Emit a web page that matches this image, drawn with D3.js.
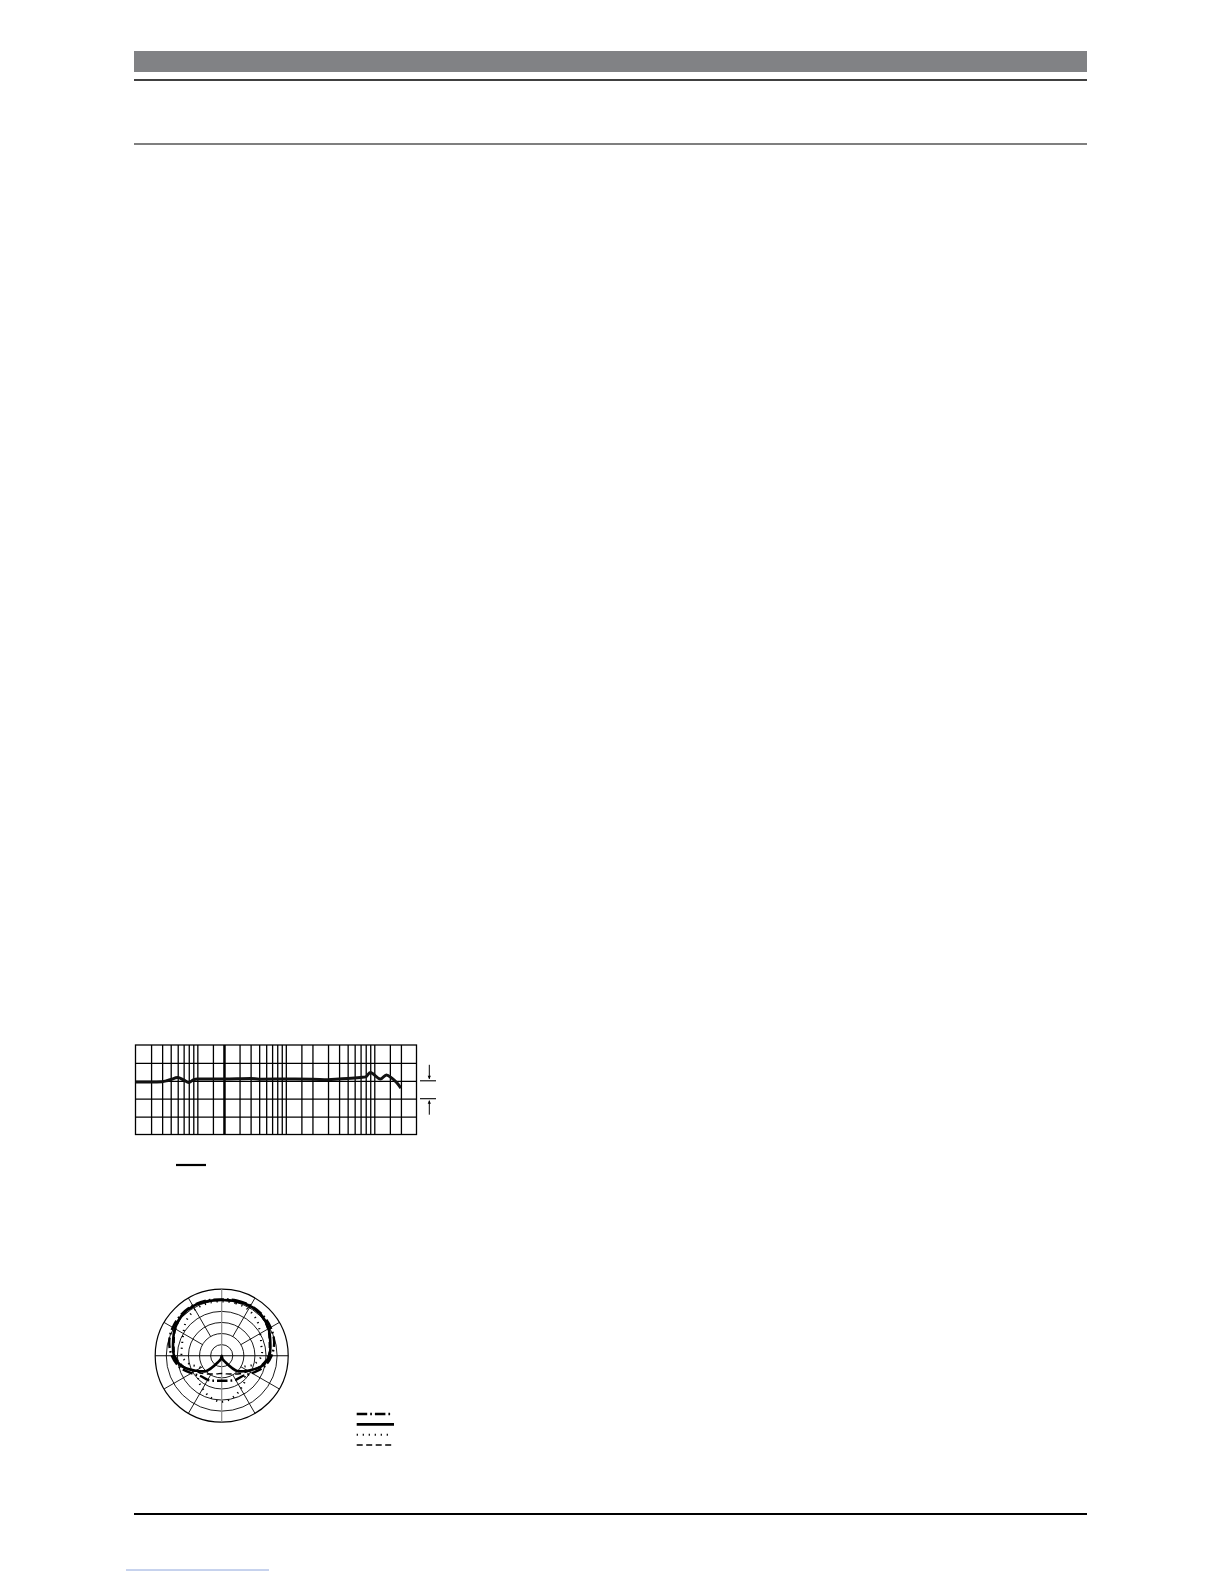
<!DOCTYPE html>
<html>
<head>
<meta charset="utf-8">
<script src="https://cdn.jsdelivr.net/npm/d3@7/dist/d3.min.js"></script>
<style>
body{margin:0;background:#fff;}
svg{display:block;}
</style>
</head>
<body>
<script>
// frequency response (Hz, dB re. 1 kHz line)
const respFreq = [20,30,40,45,50,60,70,80,90,100,200,400,500,1000,2000,3000,4000,5000,6000,7000,8000,9000,11700,13700,15800,18000,20000];
const respDb   = [-0.7,-0.7,-0.5,0,0.7,1.8,0.5,-0.9,0.5,1.0,1.0,1.3,0.9,1.0,0.9,0.6,1.0,1.3,1.6,1.9,2.2,4.6,1.0,3.3,1.5,-1.1,-4.1];

// grid of the response chart
const gridFreq = [30,40,50,60,70,80,90,100,150,200,300,400,500,600,700,800,900,1000,1500,2000,3000,4000,5000,6000,7000,8000,9000,10000,15000,20000];
const gridDb = [10,0,-10,-20];

// polar pattern (degrees, dB), one half, mirrored when drawn
const polarAngle = [0,15,30,45,60,75,90,105,120,135,150,165,180];
const solidDb    = [-4.9,-4.6,-4.2,-4.4,-5.6,-7.3,-8.5,-11.5,-16.5,-20.3,-26.6,-28.4,-30];
const dashDotDb  = [-4.6,-4.2,-3.9,-4.0,-4.5,-5.5,-7.5,-10.3,-14.2,-16.9,-17.4,-18.3,-18.7];
const dottedDb   = [-5.5,-5.5,-6.0,-7.5,-10,-11.5,-12,-15,-19,-15,-12.8,-10.5,-9.2];
const dashedDb   = [-5.0,-4.8,-4.5,-4.8,-6.0,-7.8,-9.0,-12,-16,-18.5,-20.5,-21.5,-22];
const ringDb = [-25,-20,-15,-10,-5,0];
const spokeAngle = [30,60,120,150,210,240,300,330];
const legendKeys = ['dashdot','solid','dotted','dashed'];

const W = 1224, H = 1584;
const svg = d3.select('body').append('svg')
        .attr('width', W)
        .attr('height', H);

// page header / footer rules
svg.append('rect')
   .attr('x', 134).attr('y', 51)
   .attr('width', 953).attr('height', 21)
   .attr('fill', '#818285');

[[80,1.3],[144,1.2],[1514,2.2]].forEach(function(l){
        svg.append('line')
           .attr('x1', 134).attr('x2', 1087)
           .attr('y1', l[0]).attr('y2', l[0])
           .attr('stroke', '#000')
           .attr('stroke-width', l[1]);
});

svg.append('line')
   .attr('x1', 126).attr('x2', 269)
   .attr('y1', 1570).attr('y2', 1570)
   .attr('stroke', '#8ea6dc')
   .attr('stroke-width', 1);

// ---------- frequency response ----------
const x = d3.scaleLog()
        .domain([20,30000])
        .range([135.5,416.5]);

const y = d3.scaleLinear()
        .domain([20,-30])
        .range([1045,1134.5]);

const fr = svg.append('g');

fr.append('g')
  .attr('transform', "translate(0," + y(-30) + ")")
  .call(d3.axisBottom(x)
          .tickValues(gridFreq)
          .tickSize(-(y(-30) - y(20)))
          .tickFormat(''))
  .call(g => g.select('.domain').remove())
  .selectAll('line')
  .attr('stroke', '#000')
  .attr('stroke-width', d => d == 200 ? 2.5 : 1.3);

fr.append('g')
  .attr('transform', "translate(" + x(20) + ",0)")
  .call(d3.axisLeft(y)
          .tickValues(gridDb)
          .tickSize(-(x(30000) - x(20)))
          .tickFormat(''))
  .call(g => g.select('.domain').remove())
  .selectAll('line')
  .attr('stroke', '#000')
  .attr('stroke-width', 1.3);

fr.append('rect')
  .attr('x', x(20)).attr('y', y(20))
  .attr('width', x(30000) - x(20))
  .attr('height', y(-30) - y(20))
  .attr('fill', 'none')
  .attr('stroke', '#000')
  .attr('stroke-width', 1.3);

const resp = respFreq.map((f,i) => ({f: f, db: respDb[i]}));

fr.append('path')
  .datum(resp)
  .attr('d', d3.line().x(d => x(d.f)).y(d => y(d.db)).curve(d3.curveMonotoneX))
  .attr('fill', 'none')
  .attr('stroke', '#111')
  .attr('stroke-width', 3)
  .attr('stroke-linejoin', 'round');

// 10 dB marker at the right
const ax = x(30000) + 12.8;
[0,-10].forEach(function(v){
        fr.append('line')
          .attr('x1', x(30000) + 3.5).attr('x2', x(30000) + 19.5)
          .attr('y1', y(v)).attr('y2', y(v))
          .attr('stroke', '#000').attr('stroke-width', 1.1);
});
fr.append('line')
  .attr('x1', ax).attr('x2', ax)
  .attr('y1', y(0) - 16).attr('y2', y(0) - 2)
  .attr('stroke', '#000').attr('stroke-width', 1);
fr.append('path')
  .attr('d', "M" + (ax-1.6) + "," + (y(0)-5) + "L" + (ax+1.6) + "," + (y(0)-5) + "L" + ax + "," + (y(0)-1.5) + "Z")
  .attr('fill', '#000');
fr.append('line')
  .attr('x1', ax).attr('x2', ax)
  .attr('y1', y(-10) + 16).attr('y2', y(-10) + 2)
  .attr('stroke', '#000').attr('stroke-width', 1);
fr.append('path')
  .attr('d', "M" + (ax-1.6) + "," + (y(-10)+5) + "L" + (ax+1.6) + "," + (y(-10)+5) + "L" + ax + "," + (y(-10)+1.5) + "Z")
  .attr('fill', '#000');

// legend stroke under the chart
fr.append('line')
  .attr('x1', 176).attr('x2', 206)
  .attr('y1', 1165).attr('y2', 1165)
  .attr('stroke', '#000').attr('stroke-width', 2.2);

// ---------- polar pattern ----------
const cx = 221.7, cy = 1355.7, R = 66.5;
const r = d3.scaleLinear().domain([-30,0]).range([0,R]);
const rad = a => a * Math.PI / 180;

const po = svg.append('g').attr('transform', "translate(" + cx + "," + cy + ")");

po.selectAll('circle.ring')
  .data(ringDb)
  .enter()
  .append('circle')
  .attr('class', 'ring')
  .attr('r', d => r(d))
  .attr('fill', 'none')
  .attr('stroke', '#000')
  .attr('stroke-width', d => d == 0 ? 1.2 : 0.9);

po.selectAll('line.spoke')
  .data(spokeAngle)
  .enter()
  .append('line')
  .attr('class', 'spoke')
  .attr('x1', d => r(-20) * Math.sin(rad(d)))
  .attr('y1', d => -r(-20) * Math.cos(rad(d)))
  .attr('x2', d => R * Math.sin(rad(d)))
  .attr('y2', d => -R * Math.cos(rad(d)))
  .attr('stroke', '#000')
  .attr('stroke-width', 0.9);

po.append('line')
  .attr('x1', -R).attr('x2', R).attr('y1', 0).attr('y2', 0)
  .attr('stroke', '#000').attr('stroke-width', 1.1);
po.append('line')
  .attr('x1', 0).attr('x2', 0).attr('y1', -R).attr('y2', R)
  .attr('stroke', '#8a8a8a').attr('stroke-width', 1.2);

function fullCurve(dbs){
        const half = polarAngle.map((a,i) => ({a: a, db: dbs[i]}));
        const back = polarAngle.slice(1, -1).reverse().map(function(a){
                return {a: 360 - a, db: dbs[polarAngle.indexOf(a)]};
        });
        return half.concat(back);
}

const radial = d3.lineRadial()
        .angle(d => rad(d.a))
        .radius(d => r(d.db))
        .curve(d3.curveCatmullRomClosed.alpha(0.5));

const series = [
        {key: 'dashed',  dbs: dashedDb},
        {key: 'dotted',  dbs: dottedDb},
        {key: 'dashdot', dbs: dashDotDb},
        {key: 'solid',   dbs: solidDb}
];

function lineStyle(sel, key){
        if (key == 'solid') {
                sel.attr('stroke-width', 2.6);
        } else
        if (key == 'dashdot') {
                sel.attr('stroke-width', 2.4).attr('stroke-dasharray', '10.5,3,1.7,3');
        } else
        if (key == 'dotted') {
                sel.attr('stroke-width', 2).attr('stroke-dasharray', '1.2,4.8');
        } else
        {
                sel.attr('stroke-width', 1.4).attr('stroke-dasharray', '6,3.5');
        }
        return sel;
}

series.forEach(function(s){
        po.append('path')
          .datum(fullCurve(s.dbs))
          .attr('d', radial)
          .attr('fill', 'none')
          .attr('stroke', '#000')
          .call(lineStyle, s.key);
});

// legend samples
const ly = d3.scalePoint().domain(legendKeys).range([1414,1445]);
legendKeys.forEach(function(k){
        svg.append('line')
           .attr('x1', 356.7).attr('x2', k == 'solid' ? 394 : 391.5)
           .attr('y1', ly(k)).attr('y2', ly(k))
           .attr('stroke', '#000')
           .call(lineStyle, k);
});
</script>
</body>
</html>
